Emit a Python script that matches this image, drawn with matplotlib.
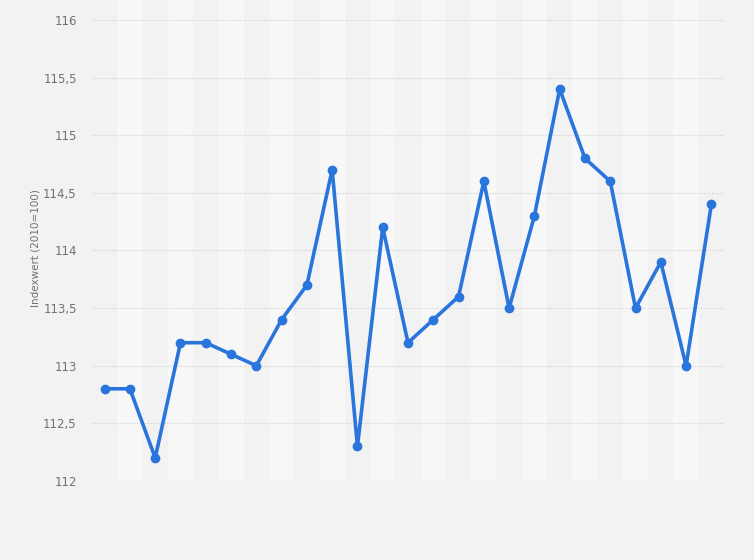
import numpy as np
import matplotlib.pyplot as plt
from matplotlib.ticker import FuncFormatter

# Index values (2010=100), one per period
values = [112.8, 112.8, 112.2, 113.2, 113.2, 113.1, 113.0, 113.4, 113.7, 114.7,
          112.3, 114.2, 113.2, 113.4, 113.6, 114.6, 113.5, 114.3, 115.4, 114.8,
          114.6, 113.5, 113.9, 113.0, 114.4]
y_ticks = [112, 112.5, 113, 113.5, 114, 114.5, 115, 115.5, 116]

bg = '#f2f2f2'
fig = plt.figure(figsize=(7.54, 5.6), dpi=100, facecolor=bg)
ax = fig.add_axes([92 / 754, 79 / 560, 632 / 754, 481 / 560])
ax.set_facecolor(bg)

x = np.arange(len(values))

# alternating light column bands
for i in x:
    if i % 2 == 1:
        ax.axvspan(i - 0.5, i + 0.5, color='#f7f7f7', zorder=0, lw=0)

ax.set_xlim(-0.5, len(values) - 0.5)
ax.set_ylim(112, 116 + 20 / 115.25)
ax.set_yticks(y_ticks)
ax.yaxis.set_major_formatter(FuncFormatter(lambda v, p: f'{v:g}'.replace('.', ',')))
ax.set_xticks([])

for t in y_ticks:
    ax.axhline(t, color='#cfcfcf', lw=0.8, ls=(0, (1, 1.5)), zorder=1)

ax.plot(x, values, color='#2a75dc', lw=2.6, marker='o', ms=6, zorder=3,
        solid_joinstyle='round')

for s in ax.spines.values():
    s.set_visible(False)
ax.tick_params(axis='y', length=0, pad=11, labelsize=8.5, labelcolor='#707070')
ax.set_ylabel('Indexwert (2010=100)', fontsize=7.5, color='#707070')
ax.yaxis.set_label_coords(-52 / 632, 0.485)

plt.savefig('out.png', dpi=100, facecolor=bg)
